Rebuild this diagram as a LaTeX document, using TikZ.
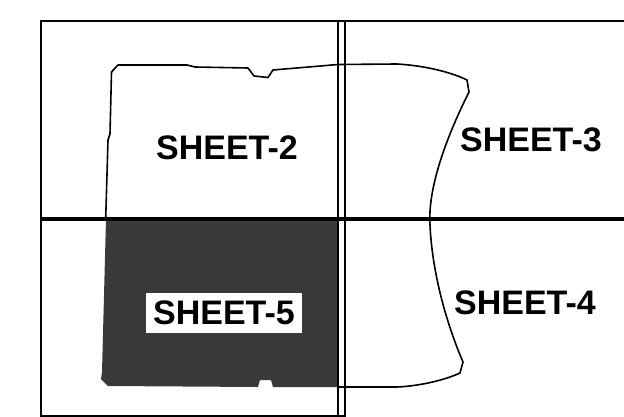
\documentclass[tikz,border=0pt]{standalone}
\usepackage{fontspec}
\setmainfont{Liberation Sans}
\usepackage{xcolor}
\definecolor{shadeGray}{RGB}{58,58,58}
\begin{document}
\begin{tikzpicture}[
    x=1pt, y=-1pt,
    frame/.style={draw, line width=2.2pt},
    outline/.style={draw, line width=1.6pt, line join=round},
    sheetlbl/.style={font=\fontsize{34}{34}\selectfont\bfseries, inner sep=0pt}
]
\useasboundingbox (0,0) rectangle (624,417);

% shaded sheet 5
\fill[shadeGray] (106,219) -- (338,219) -- (338,387) -- (273,387) -- (271,380)
    -- (260,380) -- (258,387) -- (108,386) -- (101,379) -- (102,372) -- cycle;

% sheet outline
\draw[outline] (105.7,219) -- (108,140) -- (110,134) -- (111.5,72) -- (118,65)
    -- (187,65) -- (195,67) -- (248,68) -- (254,76) -- (268,77.5) -- (273,70)
    -- (338,64.5) -- (397,64) .. controls (430,66) and (455,74) .. (467,80)
    -- (469,92) .. controls (440,150) and (428,195) .. (430,225)
    .. controls (432,270) and (445,320) .. (463,362)
    -- (460,373) .. controls (445,380) and (420,386) .. (397,387) -- (338,387);

% map frame
\draw[frame] (624,21) -- (41,21) -- (41,416) -- (345,416);
\draw[frame, line width=3.5pt] (41,219) -- (624,219);
\draw[frame, line width=1.8pt] (338,21) -- (338,417);
\draw[frame, line width=2.8pt] (345,21) -- (345,417);

% labels
\node[sheetlbl] (s2) at (227,148) {SHEET-2};
\node[sheetlbl] (s3) at (531,140) {SHEET-3};
\node[sheetlbl] (s4) at (525,303) {SHEET-4};
\node[sheetlbl, fill=white, minimum width=156pt, minimum height=40pt] (s5) at (224,313) {SHEET-5};
\end{tikzpicture}
\end{document}
